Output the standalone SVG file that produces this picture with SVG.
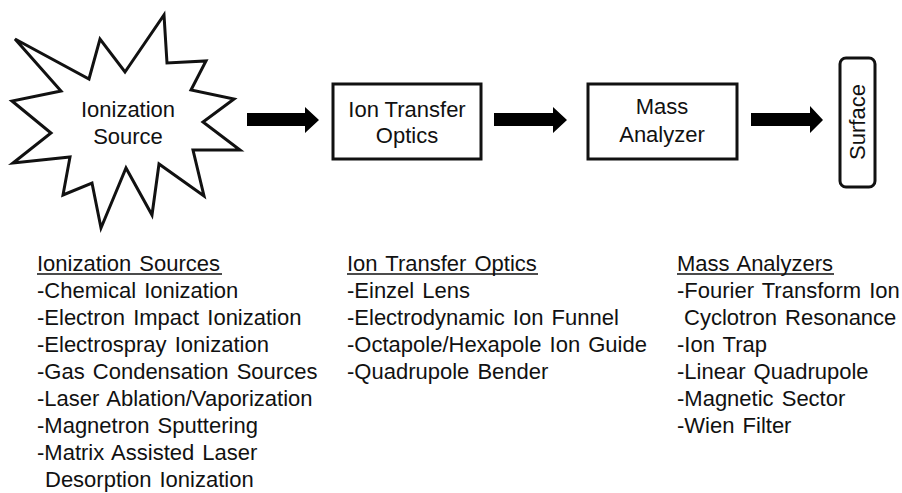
<svg xmlns="http://www.w3.org/2000/svg" width="902" height="493" viewBox="0 0 902 493">
<style>
text{font-family:"Liberation Sans",Arial,sans-serif;font-size:22px;fill:#111;}
.c{text-anchor:middle;}
.shape{fill:#fff;stroke:#111;stroke-width:3;stroke-linejoin:miter;}
.arrow{fill:#000;stroke:none;}
.ul{stroke:#111;stroke-width:1.6;}
.list text{word-spacing:2px;}
</style>
<rect width="902" height="493" fill="#fff"/>
<g id="ionization-source">
<polygon class="shape" points="15,39 89,79 100,39 125,72 164,15 167,63 206,61 191,90 234,99 203,122 240,150 193,150 204,196 159,164 152,215 126,168 101,228 92,183 63,195 70,157 13,163 51,133 12,101 61,91"/>
<text class="c" x="128" y="117">Ionization</text>
<text class="c" x="128" y="144">Source</text>
</g>
<g id="ion-transfer-optics">
<rect class="shape" x="333" y="84" width="148" height="75"/>
<text class="c" x="407" y="117">Ion Transfer</text>
<text class="c" x="407" y="143">Optics</text>
</g>
<g id="mass-analyzer">
<rect class="shape" x="588" y="84" width="149" height="75"/>
<text class="c" x="662" y="114">Mass</text>
<text class="c" x="662" y="142">Analyzer</text>
</g>
<g id="surface">
<rect class="shape" x="840" y="58" width="35" height="129" rx="6" ry="6"/>
<text class="c" transform="translate(865,122) rotate(-90)" x="0" y="0">Surface</text>
</g>
<g id="connectors">
<polygon class="arrow" points="247,113 305,113 305,107 319,120 305,133 305,126 247,126"/>
<polygon class="arrow" points="494,113 553,113 553,107 567,120 553,133 553,126 494,126"/>
<polygon class="arrow" points="751,113 810,113 810,106 823,120 810,133 810,126 751,126"/>
</g>
<g id="list-ionization-sources" class="list">
<text x="37" y="271">Ionization Sources</text>
<line class="ul" x1="37" y1="274" x2="222" y2="274"/>
<text x="37" y="298">-Chemical Ionization</text>
<text x="37" y="325">-Electron Impact Ionization</text>
<text x="37" y="352">-Electrospray Ionization</text>
<text x="37" y="379">-Gas Condensation Sources</text>
<text x="37" y="406">-Laser Ablation/Vaporization</text>
<text x="37" y="433">-Magnetron Sputtering</text>
<text x="37" y="460">-Matrix Assisted Laser</text>
<text x="45" y="487">Desorption Ionization</text>
</g>
<g id="list-ion-transfer-optics" class="list">
<text x="347" y="271">Ion Transfer Optics</text>
<line class="ul" x1="347" y1="274" x2="538" y2="274"/>
<text x="347" y="298">-Einzel Lens</text>
<text x="347" y="325">-Electrodynamic Ion Funnel</text>
<text x="347" y="352">-Octapole/Hexapole Ion Guide</text>
<text x="347" y="379">-Quadrupole Bender</text>
</g>
<g id="list-mass-analyzers" class="list">
<text x="677" y="271">Mass Analyzers</text>
<line class="ul" x1="677" y1="274" x2="834" y2="274"/>
<text x="677" y="298">-Fourier Transform Ion</text>
<text x="684" y="325">Cyclotron Resonance</text>
<text x="677" y="352">-Ion Trap</text>
<text x="677" y="379">-Linear Quadrupole</text>
<text x="677" y="406">-Magnetic Sector</text>
<text x="677" y="433">-Wien Filter</text>
</g>
</svg>
